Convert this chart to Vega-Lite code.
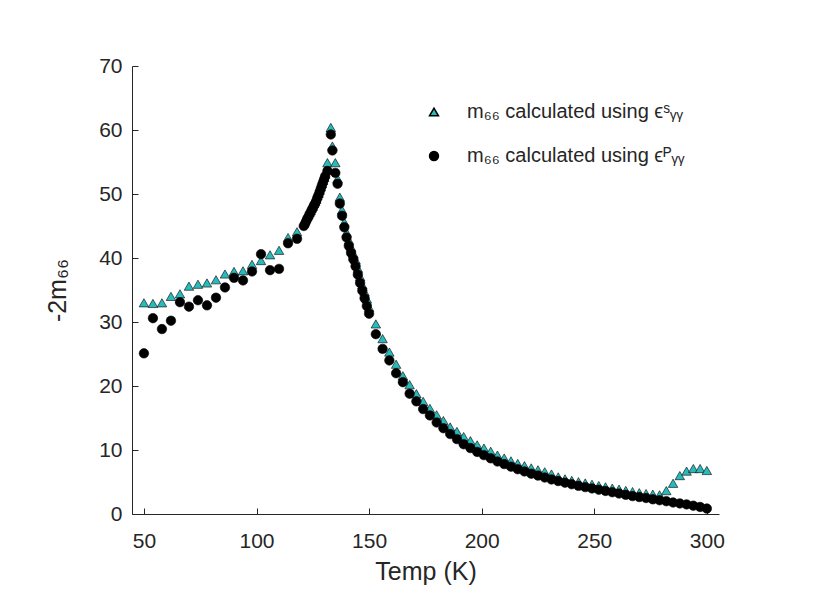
{
  "$schema": "https://vega.github.io/schema/vega-lite/v6.json",
  "width": 587,
  "height": 448,
  "autosize": {"type": "none"},
  "padding": {"left": 132, "top": 66, "right": 98, "bottom": 99},
  "background": "white",
  "config": {
    "view": {"stroke": null},
    "font": "Liberation Sans",
    "axis": {
      "grid": false,
      "domainColor": "#262626",
      "domainWidth": 1,
      "tickColor": "#262626",
      "tickSize": -6,
      "tickWidth": 1,
      "labelFont": "Liberation Sans",
      "labelFontSize": 21,
      "labelColor": "#262626",
      "titleFont": "Liberation Sans",
      "titleFontSize": 25,
      "titleFontWeight": "normal",
      "titleColor": "#262626"
    },
    "legend": {
      "labelFont": "Liberation Sans",
      "labelFontSize": 20,
      "labelColor": "#262626",
      "labelLimit": 0
    }
  },
  "data": {
    "values": [
      {"T": 50, "v": 33.0, "series": "S"},
      {"T": 54, "v": 32.9, "series": "S"},
      {"T": 58, "v": 33.0, "series": "S"},
      {"T": 62, "v": 34.0, "series": "S"},
      {"T": 66, "v": 34.4, "series": "S"},
      {"T": 70, "v": 35.6, "series": "S"},
      {"T": 74, "v": 35.9, "series": "S"},
      {"T": 78, "v": 36.1, "series": "S"},
      {"T": 82, "v": 36.6, "series": "S"},
      {"T": 86, "v": 37.5, "series": "S"},
      {"T": 90, "v": 37.9, "series": "S"},
      {"T": 94, "v": 38.0, "series": "S"},
      {"T": 98, "v": 39.0, "series": "S"},
      {"T": 102, "v": 39.6, "series": "S"},
      {"T": 106, "v": 40.5, "series": "S"},
      {"T": 110, "v": 41.2, "series": "S"},
      {"T": 114, "v": 43.2, "series": "S"},
      {"T": 118, "v": 44.1, "series": "S"},
      {"T": 121, "v": 45.5, "series": "S"},
      {"T": 121.5, "v": 45.9, "series": "S"},
      {"T": 122, "v": 46.2, "series": "S"},
      {"T": 122.5, "v": 46.5, "series": "S"},
      {"T": 123, "v": 46.8, "series": "S"},
      {"T": 123.5, "v": 47.1, "series": "S"},
      {"T": 124, "v": 47.4, "series": "S"},
      {"T": 124.5, "v": 47.8, "series": "S"},
      {"T": 125, "v": 48.1, "series": "S"},
      {"T": 125.5, "v": 48.5, "series": "S"},
      {"T": 126, "v": 48.8, "series": "S"},
      {"T": 126.5, "v": 49.2, "series": "S"},
      {"T": 127, "v": 49.7, "series": "S"},
      {"T": 127.5, "v": 50.1, "series": "S"},
      {"T": 128, "v": 50.6, "series": "S"},
      {"T": 128.5, "v": 51.1, "series": "S"},
      {"T": 129, "v": 51.6, "series": "S"},
      {"T": 129.5, "v": 52.1, "series": "S"},
      {"T": 130, "v": 52.6, "series": "S"},
      {"T": 130.5, "v": 53.1, "series": "S"},
      {"T": 131.5, "v": 54.9, "series": "S"},
      {"T": 133, "v": 60.4, "series": "S"},
      {"T": 133.7, "v": 57.5, "series": "S"},
      {"T": 135, "v": 54.9, "series": "S"},
      {"T": 136, "v": 52.4, "series": "S"},
      {"T": 137, "v": 49.5, "series": "S"},
      {"T": 138, "v": 47.5, "series": "S"},
      {"T": 139, "v": 45.6, "series": "S"},
      {"T": 140, "v": 44.0, "series": "S"},
      {"T": 141, "v": 42.8, "series": "S"},
      {"T": 142, "v": 41.7, "series": "S"},
      {"T": 143, "v": 40.7, "series": "S"},
      {"T": 144, "v": 39.7, "series": "S"},
      {"T": 145, "v": 38.4, "series": "S"},
      {"T": 146, "v": 37.1, "series": "S"},
      {"T": 147, "v": 35.8, "series": "S"},
      {"T": 148, "v": 34.7, "series": "S"},
      {"T": 149, "v": 33.6, "series": "S"},
      {"T": 150, "v": 32.3, "series": "S"},
      {"T": 153, "v": 29.7, "series": "S"},
      {"T": 156, "v": 27.4, "series": "S"},
      {"T": 159, "v": 25.3, "series": "S"},
      {"T": 162, "v": 23.4, "series": "S"},
      {"T": 165, "v": 21.6, "series": "S"},
      {"T": 168, "v": 20.2, "series": "S"},
      {"T": 171, "v": 18.8, "series": "S"},
      {"T": 174, "v": 17.6, "series": "S"},
      {"T": 177, "v": 16.5, "series": "S"},
      {"T": 180, "v": 15.5, "series": "S"},
      {"T": 183, "v": 14.6, "series": "S"},
      {"T": 186, "v": 13.6, "series": "S"},
      {"T": 189, "v": 12.9, "series": "S"},
      {"T": 192, "v": 12.1, "series": "S"},
      {"T": 195, "v": 11.45, "series": "S"},
      {"T": 198, "v": 10.8, "series": "S"},
      {"T": 201, "v": 10.3, "series": "S"},
      {"T": 204, "v": 9.8, "series": "S"},
      {"T": 207, "v": 9.2, "series": "S"},
      {"T": 210, "v": 8.75, "series": "S"},
      {"T": 213, "v": 8.3, "series": "S"},
      {"T": 216, "v": 7.9, "series": "S"},
      {"T": 219, "v": 7.55, "series": "S"},
      {"T": 222, "v": 7.2, "series": "S"},
      {"T": 225, "v": 6.9, "series": "S"},
      {"T": 228, "v": 6.6, "series": "S"},
      {"T": 231, "v": 6.25, "series": "S"},
      {"T": 234, "v": 5.8, "series": "S"},
      {"T": 237, "v": 5.5, "series": "S"},
      {"T": 240, "v": 5.25, "series": "S"},
      {"T": 243, "v": 5.05, "series": "S"},
      {"T": 246, "v": 4.85, "series": "S"},
      {"T": 249, "v": 4.65, "series": "S"},
      {"T": 252, "v": 4.45, "series": "S"},
      {"T": 255, "v": 4.25, "series": "S"},
      {"T": 258, "v": 4.05, "series": "S"},
      {"T": 261, "v": 3.88, "series": "S"},
      {"T": 264, "v": 3.68, "series": "S"},
      {"T": 267, "v": 3.5, "series": "S"},
      {"T": 270, "v": 3.33, "series": "S"},
      {"T": 273, "v": 3.2, "series": "S"},
      {"T": 276, "v": 3.1, "series": "S"},
      {"T": 279, "v": 3.0, "series": "S"},
      {"T": 282, "v": 3.65, "series": "S"},
      {"T": 285, "v": 4.8, "series": "S"},
      {"T": 288, "v": 6.0, "series": "S"},
      {"T": 291, "v": 6.7, "series": "S"},
      {"T": 294, "v": 7.1, "series": "S"},
      {"T": 297, "v": 7.1, "series": "S"},
      {"T": 300, "v": 6.8, "series": "S"},
      {"T": 50, "v": 25.1, "series": "P"},
      {"T": 54, "v": 30.6, "series": "P"},
      {"T": 58, "v": 28.9, "series": "P"},
      {"T": 62, "v": 30.2, "series": "P"},
      {"T": 66, "v": 33.1, "series": "P"},
      {"T": 70, "v": 32.4, "series": "P"},
      {"T": 74, "v": 33.4, "series": "P"},
      {"T": 78, "v": 32.6, "series": "P"},
      {"T": 82, "v": 33.8, "series": "P"},
      {"T": 86, "v": 35.4, "series": "P"},
      {"T": 90, "v": 36.9, "series": "P"},
      {"T": 94, "v": 36.5, "series": "P"},
      {"T": 98, "v": 37.9, "series": "P"},
      {"T": 102, "v": 40.6, "series": "P"},
      {"T": 106, "v": 38.1, "series": "P"},
      {"T": 110, "v": 38.3, "series": "P"},
      {"T": 114, "v": 42.3, "series": "P"},
      {"T": 118, "v": 43.0, "series": "P"},
      {"T": 121, "v": 45.0, "series": "P"},
      {"T": 121.5, "v": 45.3, "series": "P"},
      {"T": 122, "v": 45.7, "series": "P"},
      {"T": 122.5, "v": 46.1, "series": "P"},
      {"T": 123, "v": 46.4, "series": "P"},
      {"T": 123.5, "v": 46.8, "series": "P"},
      {"T": 124, "v": 47.1, "series": "P"},
      {"T": 124.5, "v": 47.5, "series": "P"},
      {"T": 125, "v": 47.8, "series": "P"},
      {"T": 125.5, "v": 48.2, "series": "P"},
      {"T": 126, "v": 48.5, "series": "P"},
      {"T": 126.5, "v": 48.9, "series": "P"},
      {"T": 127, "v": 49.4, "series": "P"},
      {"T": 127.5, "v": 49.8, "series": "P"},
      {"T": 128, "v": 50.3, "series": "P"},
      {"T": 128.5, "v": 50.8, "series": "P"},
      {"T": 129, "v": 51.3, "series": "P"},
      {"T": 129.5, "v": 51.8, "series": "P"},
      {"T": 130, "v": 52.3, "series": "P"},
      {"T": 130.5, "v": 52.8, "series": "P"},
      {"T": 131.5, "v": 53.6, "series": "P"},
      {"T": 133, "v": 59.3, "series": "P"},
      {"T": 133.7, "v": 56.8, "series": "P"},
      {"T": 135, "v": 53.3, "series": "P"},
      {"T": 136, "v": 51.6, "series": "P"},
      {"T": 137, "v": 48.5, "series": "P"},
      {"T": 138, "v": 46.6, "series": "P"},
      {"T": 139, "v": 44.8, "series": "P"},
      {"T": 140, "v": 43.2, "series": "P"},
      {"T": 141, "v": 41.9, "series": "P"},
      {"T": 142, "v": 40.8, "series": "P"},
      {"T": 143, "v": 39.8, "series": "P"},
      {"T": 144, "v": 38.7, "series": "P"},
      {"T": 145, "v": 37.4, "series": "P"},
      {"T": 146, "v": 36.1, "series": "P"},
      {"T": 147, "v": 34.9, "series": "P"},
      {"T": 148, "v": 33.7, "series": "P"},
      {"T": 149, "v": 32.5, "series": "P"},
      {"T": 150, "v": 31.3, "series": "P"},
      {"T": 153, "v": 28.1, "series": "P"},
      {"T": 156, "v": 25.8, "series": "P"},
      {"T": 159, "v": 24.0, "series": "P"},
      {"T": 162, "v": 22.0, "series": "P"},
      {"T": 165, "v": 20.6, "series": "P"},
      {"T": 168, "v": 18.8, "series": "P"},
      {"T": 171, "v": 17.6, "series": "P"},
      {"T": 174, "v": 16.4, "series": "P"},
      {"T": 177, "v": 15.4, "series": "P"},
      {"T": 180, "v": 14.3, "series": "P"},
      {"T": 183, "v": 13.4, "series": "P"},
      {"T": 186, "v": 12.5, "series": "P"},
      {"T": 189, "v": 11.7, "series": "P"},
      {"T": 192, "v": 10.9, "series": "P"},
      {"T": 195, "v": 10.3, "series": "P"},
      {"T": 198, "v": 9.7, "series": "P"},
      {"T": 201, "v": 9.2, "series": "P"},
      {"T": 204, "v": 8.7, "series": "P"},
      {"T": 207, "v": 8.2, "series": "P"},
      {"T": 210, "v": 7.8, "series": "P"},
      {"T": 213, "v": 7.4, "series": "P"},
      {"T": 216, "v": 7.0, "series": "P"},
      {"T": 219, "v": 6.65, "series": "P"},
      {"T": 222, "v": 6.3, "series": "P"},
      {"T": 225, "v": 6.0, "series": "P"},
      {"T": 228, "v": 5.7, "series": "P"},
      {"T": 231, "v": 5.4, "series": "P"},
      {"T": 234, "v": 5.15, "series": "P"},
      {"T": 237, "v": 4.9, "series": "P"},
      {"T": 240, "v": 4.65, "series": "P"},
      {"T": 243, "v": 4.4, "series": "P"},
      {"T": 246, "v": 4.2, "series": "P"},
      {"T": 249, "v": 4.0, "series": "P"},
      {"T": 252, "v": 3.8, "series": "P"},
      {"T": 255, "v": 3.6, "series": "P"},
      {"T": 258, "v": 3.4, "series": "P"},
      {"T": 261, "v": 3.2, "series": "P"},
      {"T": 264, "v": 3.0, "series": "P"},
      {"T": 267, "v": 2.8, "series": "P"},
      {"T": 270, "v": 2.65, "series": "P"},
      {"T": 273, "v": 2.5, "series": "P"},
      {"T": 276, "v": 2.3, "series": "P"},
      {"T": 279, "v": 2.15, "series": "P"},
      {"T": 282, "v": 2.0, "series": "P"},
      {"T": 285, "v": 1.8, "series": "P"},
      {"T": 288, "v": 1.65, "series": "P"},
      {"T": 291, "v": 1.5, "series": "P"},
      {"T": 294, "v": 1.3, "series": "P"},
      {"T": 297, "v": 1.1, "series": "P"},
      {"T": 300, "v": 0.85, "series": "P"}
    ]
  },
  "mark": {"type": "point", "filled": true, "opacity": 1, "size": 90, "stroke": "#000000", "strokeWidth": 0.6},
  "encoding": {
    "x": {
      "field": "T",
      "type": "quantitative",
      "scale": {"domain": [44.7, 305.4], "nice": false, "zero": false},
      "axis": {"values": [50, 100, 150, 200, 250, 300], "title": "Temp (K)", "labelPadding": 22, "titlePadding": 8}
    },
    "y": {
      "field": "v",
      "type": "quantitative",
      "scale": {"domain": [0, 70], "nice": false},
      "axis": {"values": [0, 10, 20, 30, 40, 50, 60, 70], "title": "-2m₆₆", "labelPadding": 16, "titlePadding": 28}
    },
    "shape": {
      "field": "series",
      "type": "nominal",
      "scale": {"domain": ["S", "P"], "range": ["triangle-up", "circle"]},
      "legend": {
        "title": null,
        "orient": "none",
        "legendX": 292,
        "legendY": 36,
        "padding": 0,
        "labelOffset": 23,
        "rowPadding": 24,
        "symbolSize": 80,
        "labelExpr": "datum.label == 'S' ? 'm₆₆ calculated using ϵˢᵧᵧ' : 'm₆₆ calculated using ϵᴾᵧᵧ'"
      }
    },
    "color": {
      "field": "series",
      "type": "nominal",
      "scale": {"domain": ["S", "P"], "range": ["#2bbabb", "#000000"]},
      "legend": {
        "title": null,
        "orient": "none",
        "legendX": 292,
        "legendY": 36,
        "padding": 0,
        "labelOffset": 23,
        "rowPadding": 24,
        "symbolSize": 80,
        "labelExpr": "datum.label == 'S' ? 'm₆₆ calculated using ϵˢᵧᵧ' : 'm₆₆ calculated using ϵᴾᵧᵧ'"
      }
    }
  }
}
